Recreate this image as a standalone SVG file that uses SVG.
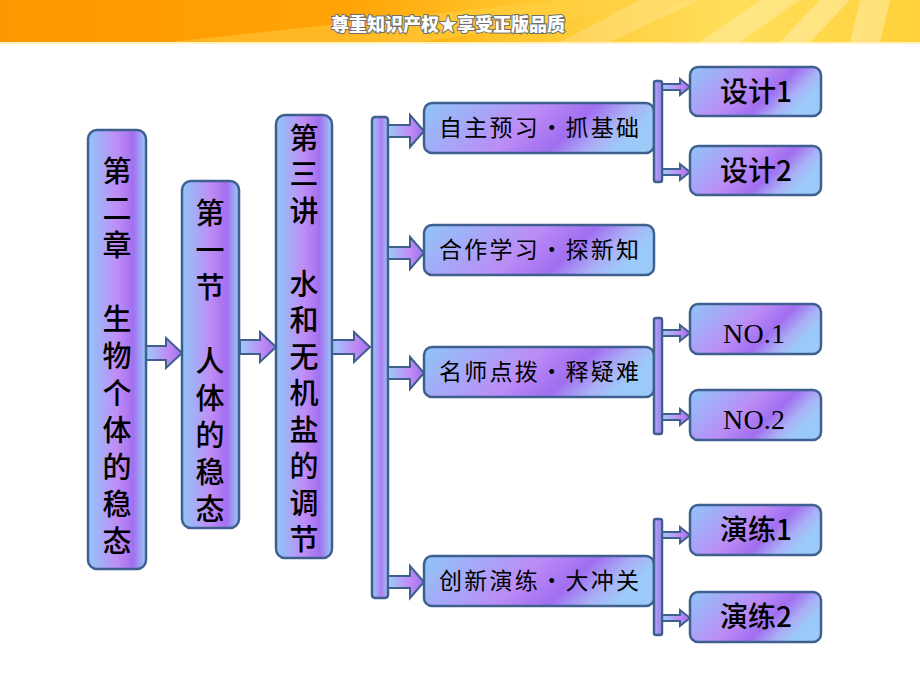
<svg xmlns="http://www.w3.org/2000/svg" width="920" height="690" viewBox="0 0 920 690">
<defs>
<linearGradient id="hdr" x1="0" y1="0" x2="1" y2="0">
<stop offset="0" stop-color="#ff9800"/>
<stop offset="0.38" stop-color="#ffa406"/>
<stop offset="0.55" stop-color="#ffc42a"/>
<stop offset="0.8" stop-color="#ffdf5c"/>
<stop offset="1" stop-color="#ffd13a"/>
</linearGradient>
<linearGradient id="gv" x1="0" y1="0" x2="1" y2="0">
<stop offset="0" stop-color="#8fc6f8"/>
<stop offset="0.5" stop-color="#c08cf6"/>
<stop offset="0.78" stop-color="#a26ff0"/>
<stop offset="1" stop-color="#9ccaf7"/>
</linearGradient>
<linearGradient id="gm" x1="0" y1="0" x2="1" y2="0.22">
<stop offset="0" stop-color="#8fc6f8"/>
<stop offset="0.5" stop-color="#bb8cf6"/>
<stop offset="0.72" stop-color="#a06ef0"/>
<stop offset="0.88" stop-color="#aab0f6"/>
<stop offset="1" stop-color="#9ccaf8"/>
</linearGradient>
<linearGradient id="gr" x1="0" y1="0" x2="1" y2="0.38">
<stop offset="0" stop-color="#8fc6f8"/>
<stop offset="0.5" stop-color="#bb8cf6"/>
<stop offset="0.72" stop-color="#a06ef0"/>
<stop offset="0.88" stop-color="#aab0f6"/>
<stop offset="1" stop-color="#9ccaf8"/>
</linearGradient>
<linearGradient id="ga" x1="0" y1="0" x2="1" y2="0">
<stop offset="0" stop-color="#9ccaf8"/>
<stop offset="0.6" stop-color="#c08cf6"/>
<stop offset="1" stop-color="#a070f0"/>
</linearGradient>
<linearGradient id="gb" x1="0" y1="0" x2="1" y2="0">
<stop offset="0" stop-color="#98c8f8"/>
<stop offset="0.6" stop-color="#b07ef4"/>
<stop offset="1" stop-color="#9cc8f6"/>
</linearGradient>
<style>
.col{fill:url(#gv);stroke:#3f5f8e;stroke-width:2.5}
.mid{fill:url(#gm);stroke:#3f5f8e;stroke-width:2.5}
.rt{fill:url(#gr);stroke:#3f5f8e;stroke-width:2.5}
.arr{fill:url(#ga);stroke:#3f5f8e;stroke-width:2;stroke-linejoin:miter}
.bar{fill:url(#gb);stroke:#3f5f8e;stroke-width:2.5}
.ct{font-family:"Noto Sans CJK SC","Noto Sans CJK JP",sans-serif;font-size:29px;font-weight:500;fill:#000;writing-mode:vertical-rl;letter-spacing:8px}
.mt{font-family:"Noto Sans CJK SC","Noto Sans CJK JP",sans-serif;font-size:23px;fill:#000;text-anchor:middle}
.rtt{font-family:"Noto Sans CJK SC","Noto Sans CJK JP",sans-serif;font-size:28px;font-weight:500;fill:#000;text-anchor:middle}
.nt{font-family:"Liberation Serif",serif;font-size:28px;fill:#000;text-anchor:middle}
.hd{font-family:"Noto Sans CJK SC","Noto Sans CJK JP",sans-serif;font-size:18px;font-weight:900;fill:#fff;stroke:#6e6e6e;stroke-width:2;paint-order:stroke;text-anchor:middle}
</style>
</defs>
<rect width="920" height="690" fill="#fff"/>
<g id="header">
<rect x="0" y="0" width="920" height="42" fill="url(#hdr)"/>
<polygon points="170,42 560,0 700,0 420,42" fill="#ffd24a" opacity="0.45"/>
<polygon points="560,42 640,0 700,0 610,42" fill="#fff" opacity="0.18"/>
<polygon points="700,42 760,0 800,0 740,42" fill="#fff" opacity="0.25"/>
<polygon points="780,42 820,0 850,0 810,42" fill="#fff" opacity="0.3"/>
<polygon points="850,42 860,0 890,0 880,42" fill="#fff" opacity="0.3"/>
<rect x="0" y="42" width="920" height="2" fill="#fff2c0"/>
<text class="hd" x="448" y="31">尊重知识产权★享受正版品质</text>
</g>
<g id="connectors">
<path class="arr" d="M146,346 L166,346 L166,338 L182,353 L166,368 L166,360 L146,360 Z"/>
<path class="arr" d="M240,340 L260,340 L260,332 L276,347 L260,362 L260,354 L240,354 Z"/>
<path class="arr" d="M332,340 L354,340 L354,332 L370,347 L354,362 L354,354 L332,354 Z"/>
<rect class="bar" x="372" y="117" width="16" height="481" rx="3"/>
<path class="arr" d="M388,125 L410,125 L410,115 L424,131 L410,147 L410,137 L388,137 Z"/>
<path class="arr" d="M388,247 L410,247 L410,237 L424,253 L410,269 L410,259 L388,259 Z"/>
<path class="arr" d="M388,367 L410,367 L410,357 L424,373 L410,389 L410,379 L388,379 Z"/>
<path class="arr" d="M388,576 L410,576 L410,566 L424,582 L410,598 L410,588 L388,588 Z"/>
<path class="arr" d="M662,84 L680,84 L680,79 L690,87 L680,95 L680,90 L662,90 Z"/>
<path class="arr" d="M662,169 L680,169 L680,164 L690,172 L680,180 L680,175 L662,175 Z"/>
<path class="arr" d="M662,330 L680,330 L680,325 L690,333 L680,341 L680,336 L662,336 Z"/>
<path class="arr" d="M662,414 L680,414 L680,409 L690,417 L680,425 L680,420 L662,420 Z"/>
<path class="arr" d="M662,532 L680,532 L680,527 L690,535 L680,543 L680,538 L662,538 Z"/>
<path class="arr" d="M662,615 L680,615 L680,610 L690,618 L680,626 L680,621 L662,621 Z"/>
</g>
<g id="n-ch2">
<rect class="col" x="88" y="130" width="58" height="439" rx="9"/>
<text class="ct" x="117" y="156">第二章　生物个体的稳态</text>
</g>
<g id="n-sec1">
<rect class="col" x="182" y="181" width="57" height="347" rx="9"/>
<text class="ct" x="210" y="198">第一节　人体的稳态</text>
</g>
<g id="n-lec3">
<rect class="col" x="276" y="115" width="56" height="443" rx="9"/>
<text class="ct" x="304" y="123" style="letter-spacing:7.5px">第三讲　水和无机盐的调节</text>
</g>
<g id="n-m1">
<rect class="mid" x="424" y="103" width="230" height="50" rx="8"/>
<text class="mt" x="539" y="136" textLength="200" lengthAdjust="spacing">自主预习·抓基础</text>
</g>
<g id="n-m2">
<rect class="mid" x="424" y="225" width="230" height="50" rx="8"/>
<text class="mt" x="539" y="258" textLength="200" lengthAdjust="spacing">合作学习·探新知</text>
</g>
<g id="n-m3">
<rect class="mid" x="424" y="347" width="230" height="50" rx="8"/>
<text class="mt" x="539" y="380" textLength="200" lengthAdjust="spacing">名师点拨·释疑难</text>
</g>
<g id="n-m4">
<rect class="mid" x="424" y="556" width="230" height="50" rx="8"/>
<text class="mt" x="539" y="589" textLength="200" lengthAdjust="spacing">创新演练·大冲关</text>
</g>
<g id="right-bars">
<rect class="bar" x="654" y="81" width="8" height="101" rx="2"/>
<rect class="bar" x="654" y="318" width="8" height="116" rx="2"/>
<rect class="bar" x="654" y="519" width="8" height="116" rx="2"/>
</g>
<g id="n-d1">
<rect class="rt" x="690" y="67" width="131" height="49" rx="8"/>
<text class="rtt" x="756" y="102">设计1</text>
</g>
<g id="n-d2">
<rect class="rt" x="690" y="146" width="131" height="49" rx="8"/>
<text class="rtt" x="756" y="181">设计2</text>
</g>
<g id="n-no1">
<rect class="rt" x="690" y="304" width="131" height="50" rx="8"/>
<text class="nt" x="754" y="343" textLength="62" lengthAdjust="spacing">NO.1</text>
</g>
<g id="n-no2">
<rect class="rt" x="690" y="390" width="131" height="50" rx="8"/>
<text class="nt" x="754" y="429" textLength="62" lengthAdjust="spacing">NO.2</text>
</g>
<g id="n-y1">
<rect class="rt" x="690" y="505" width="131" height="50" rx="8"/>
<text class="rtt" x="756" y="540">演练1</text>
</g>
<g id="n-y2">
<rect class="rt" x="690" y="592" width="131" height="50" rx="8"/>
<text class="rtt" x="756" y="627">演练2</text>
</g>
</svg>
